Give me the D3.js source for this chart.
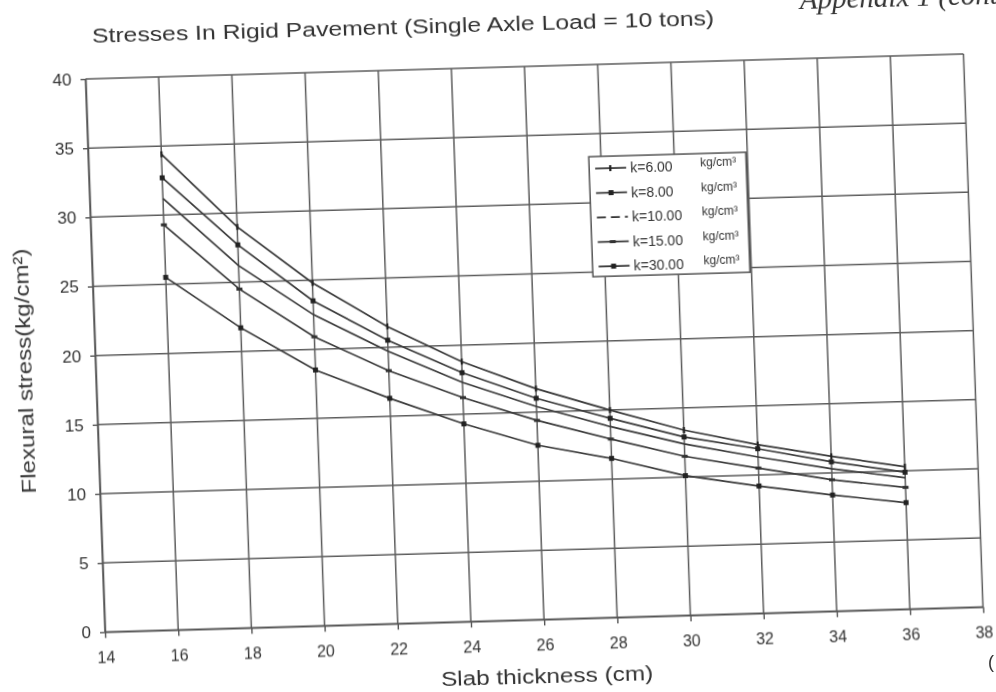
<!DOCTYPE html>
<html>
<head>
<meta charset="utf-8">
<title>Stresses in Rigid Pavement</title>
<script src="https://cdn.jsdelivr.net/npm/d3@7/dist/d3.min.js"></script>
<style>
  body { margin: 0; background: #fff; }
  text { font-family: "Liberation Sans", Arial, sans-serif; fill: #333; }
</style>
</head>
<body>
<script>
// values (kg/cm2), slab thickness in cm
var thickness = [16, 18, 20, 22, 24, 26, 28, 30, 32, 34, 36];
var stressK6  = [34.4, 29.0, 24.8, 21.5, 18.8, 16.7, 15.0, 13.4, 12.2, 11.2, 10.3];
var stressK8  = [32.7, 27.7, 23.5, 20.5, 18.0, 16.0, 14.4, 12.9, 11.9, 10.8, 9.9];
var stressK10 = [31.2, 26.2, 22.5, 19.7, 17.3, 15.4, 13.8, 12.4, 11.3, 10.3, 9.5];
var stressK15 = [29.3, 24.5, 20.9, 18.3, 16.2, 14.4, 12.9, 11.5, 10.5, 9.5, 8.8];
var stressK30 = [25.5, 21.7, 18.5, 16.3, 14.3, 12.6, 11.5, 10.1, 9.2, 8.4, 7.7];
var seriesNames = ["k=6.00", "k=8.00", "k=10.00", "k=15.00", "k=30.00"];
var xTicks = [14, 16, 18, 20, 22, 24, 26, 28, 30, 32, 34, 36, 38];
var yTicks = [0, 5, 10, 15, 20, 25, 30, 35, 40];

var allSeries = [stressK6, stressK8, stressK10, stressK15, stressK30];
var markerType = ["bar", "square", "none", "dash", "square"];

var W = 878, H = 553;
var svg = d3.select("body").append("svg")
    .attr("width", 996)
    .attr("height", 692);

var defs = svg.append("defs");
defs.append("filter").attr("id", "scan")
    .append("feGaussianBlur").attr("stdDeviation", 0.45);

// the scan is slightly skewed, so the whole chart sits in a sheared group
var g = svg.append("g")
    .attr("transform", "matrix(1,-0.0285,0.0353,1,85.5,79)")
    .attr("filter", "url(#scan)");

var x = d3.scaleLinear().domain([14, 38]).range([0, W]);
var y = d3.scaleLinear().domain([0, 40]).range([H, 0]);

// grid
g.selectAll(".vgrid").data(xTicks).enter().append("line")
    .attr("x1", function(d){ return x(d); })
    .attr("x2", function(d){ return x(d); })
    .attr("y1", 0).attr("y2", H)
    .attr("stroke", "#5c5c5c").attr("stroke-width", 1.5);
g.selectAll(".hgrid").data(yTicks).enter().append("line")
    .attr("x1", 0).attr("x2", W)
    .attr("y1", function(d){ return y(d); })
    .attr("y2", function(d){ return y(d); })
    .attr("stroke", "#5c5c5c").attr("stroke-width", 1.5);

// axes
var xAxis = g.append("g").attr("transform", "translate(0," + H + ")")
    .call(d3.axisBottom(x).tickValues(xTicks).tickSize(6).tickSizeOuter(0).tickPadding(14));
var yAxis = g.append("g")
    .call(d3.axisLeft(y).tickValues(yTicks).tickSize(5).tickSizeOuter(0).tickPadding(9));
[xAxis, yAxis].forEach(function(a){
  a.select(".domain").attr("stroke", "#555").attr("stroke-width", 1.5);
  a.selectAll(".tick line").attr("stroke", "#555").attr("stroke-width", 1.4);
  a.selectAll("text").attr("fill", "#333")
    .style("font-family", "'Liberation Sans', Arial, sans-serif");
});
xAxis.selectAll("text").style("font-size", "16px");
yAxis.selectAll("text").style("font-size", "17px");

// curves
var line = d3.line()
    .x(function(d, i){ return x(thickness[i]); })
    .y(function(d){ return y(d); });

function drawMarker(sel, type, cx, cy){
  if (type === "bar") {
    sel.append("rect").attr("x", cx - 1).attr("y", cy - 3).attr("width", 2.2).attr("height", 6).attr("fill", "#222");
  } else if (type === "square") {
    sel.append("rect").attr("x", cx - 2.5).attr("y", cy - 2.5).attr("width", 5).attr("height", 5).attr("fill", "#222");
  } else if (type === "dash") {
    sel.append("rect").attr("x", cx - 3).attr("y", cy - 1.5).attr("width", 6).attr("height", 3).attr("fill", "#333");
  }
}

allSeries.forEach(function(s, si){
  g.append("path").datum(s)
    .attr("d", line)
    .attr("fill", "none")
    .attr("stroke", "#3a3a3a")
    .attr("stroke-width", 1.7);
  var mg = g.append("g");
  s.forEach(function(v, i){ drawMarker(mg, markerType[si], x(thickness[i]), y(v)); });
});

// legend
var lg = g.append("g").attr("transform", "translate(500,92)");
lg.append("rect").attr("width", 157).attr("height", 120)
    .attr("fill", "#fff").attr("stroke", "#555").attr("stroke-width", 1.5);
seriesNames.forEach(function(name, i){
  var ry = 12 + i * 24.5;
  lg.append("line").attr("x1", 6).attr("x2", 37).attr("y1", ry).attr("y2", ry)
    .attr("stroke", "#333").attr("stroke-width", 1.7)
    .attr("stroke-dasharray", markerType[i] === "none" ? "9,5" : null);
  drawMarker(lg, markerType[i], 21, ry);
  lg.append("text").attr("x", 41).attr("y", ry + 5).style("font-size", "14px").text(name);
  lg.append("text").attr("x", 111).attr("y", ry + 1).style("font-size", "12px").text("kg/cm\u00b3");
});

// titles (scan text runs wide, so stretch glyphs to the measured widths)
g.append("text").attr("x", 8).attr("y", -36)
    .style("font-size", "20px")
    .attr("textLength", 622).attr("lengthAdjust", "spacingAndGlyphs")
    .text("Stresses In Rigid Pavement (Single Axle Load = 10 tons)");
g.append("text").attr("x", 440).attr("y", 617)
    .attr("text-anchor", "middle")
    .style("font-size", "20px")
    .attr("textLength", 212).attr("lengthAdjust", "spacingAndGlyphs")
    .text("Slab thickness (cm)");
g.append("text")
    .attr("transform", "translate(-64,290) rotate(-90)")
    .attr("text-anchor", "middle")
    .style("font-size", "20px")
    .attr("textLength", 245).attr("lengthAdjust", "spacingAndGlyphs")
    .text("Flexural stress(kg/cm\u00b2)");

// bits of the scanned page outside the chart (cut by the page edge in the scan)
svg.append("text").attr("x", 800).attr("y", 9)
    .attr("transform", "rotate(-1.5,800,9)")
    .style("font-family", "'Liberation Serif', serif")
    .style("font-style", "italic").style("font-size", "29px")
    .attr("fill", "#333")
    .text("Appendix 1 (cont.)");
svg.append("text").attr("x", 988).attr("y", 668)
    .style("font-size", "18px").text("(");
</script>
</body>
</html>
